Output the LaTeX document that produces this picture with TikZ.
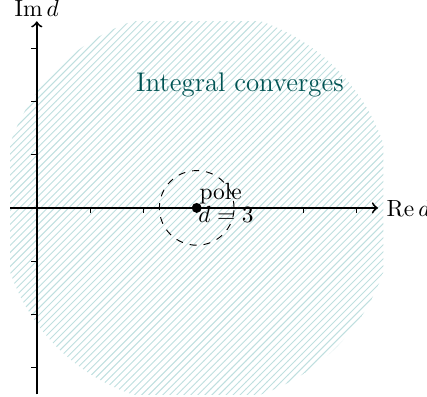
\documentclass[tikz,border=0pt]{standalone}
\usepackage{amsmath,amssymb}
\usepackage{tikz}
\usetikzlibrary{patterns,positioning}

\begin{document}
\begin{tikzpicture}[x=0.8cm, y=0.8cm]
    \useasboundingbox (-0.69,-3.53) rectangle (7.32,3.9);
    \begin{scope}
        \clip (-0.5,-3.5) rectangle (6.5,3.5);
        \fill[pattern=north east lines, pattern color=teal!25] (3,0) circle (3.7);
    \end{scope}
    \node (region) [text=teal!65!black, font=\fontsize{11.5}{14}\selectfont] at (3.81,2.31) {Integral converges};

    \coordinate (xmin) at (-0.5,0);
    \coordinate (xmax) at (6.4,0);
    \coordinate (ymin) at (0,-3.5);
    \coordinate (ymax) at (0,3.5);
    \foreach \i in {1,...,6} \draw (\i,0) -- (\i,-0.1);
    \foreach \j in {-3,-2,-1,1,2,3} \draw (0,\j) -- (-0.1,\j);
    \draw[->, thick] (xmin) -- (xmax) node[right] {$\operatorname{Re} d$};
    \draw[->, thick] (ymin) -- (ymax) node[above, inner sep=1.5pt] {$\operatorname{Im} d$};

    \node (pole) [circle, fill, inner sep=1.5pt] at (3,0) {};
    \draw[dashed] (pole.center) circle (0.7);
    \node (polelabel) at (3.45,0.26) {pole};
    \node (polevalue) at (3.55,-0.13) {$d=3$};
\end{tikzpicture}
\end{document}
